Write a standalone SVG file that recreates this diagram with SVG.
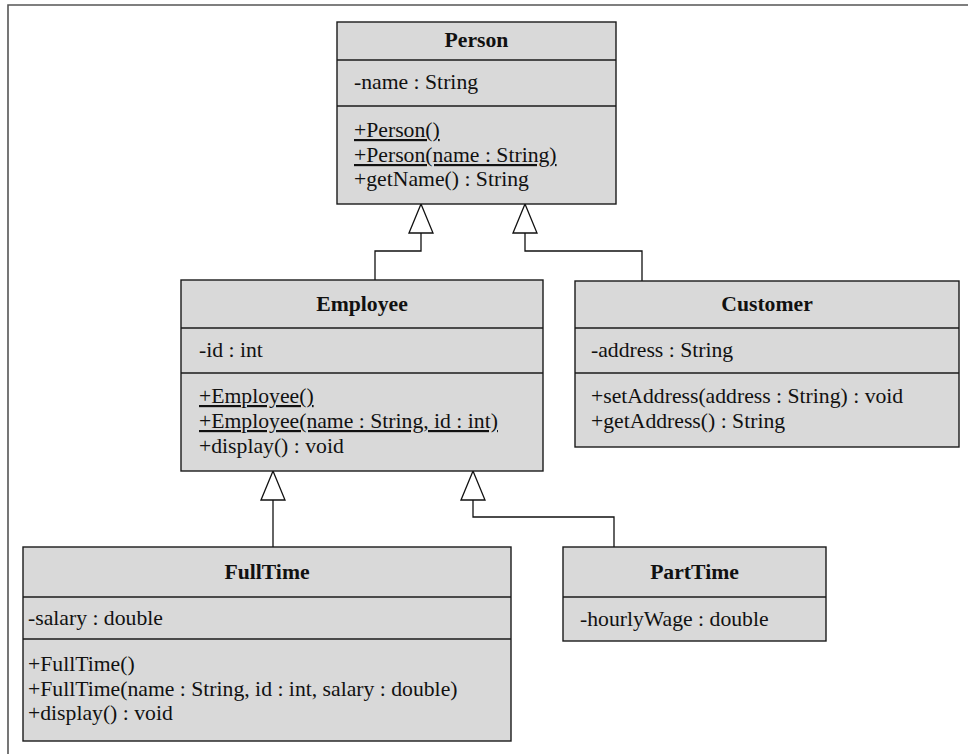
<svg xmlns="http://www.w3.org/2000/svg" width="968" height="754" viewBox="0 0 968 754">
<defs>
<style>
.box{fill:#d9d9d9;stroke:#1a1a1a;stroke-width:1.4}
.div{stroke:#1a1a1a;stroke-width:1.4}
text{font-family:"Liberation Serif","Times New Roman",serif;font-size:21.7px;fill:#111}
.title{font-weight:bold;text-anchor:middle}
.u{text-decoration:underline}
.conn{fill:none;stroke:#111;stroke-width:1.3}
.frame{stroke:#555;stroke-width:1.6;fill:none}
</style>
<marker id="gen" markerUnits="userSpaceOnUse" viewBox="0 0 31 26" refX="30" refY="13" markerWidth="31" markerHeight="26" orient="auto">
<path d="M1,1 L30,13 L1,25 Z" fill="#fff" stroke="#111" stroke-width="1.3"/>
</marker>
</defs>
<rect width="968" height="754" fill="#fff"/>
<path class="frame" d="M968,5 H8 V754"/>

<g id="connectors">
<path class="conn" d="M375,280 V251 H421 V204" marker-end="url(#gen)"/>
<path class="conn" d="M642,281 V251 H525 V204" marker-end="url(#gen)"/>
<path class="conn" d="M273,547 V471" marker-end="url(#gen)"/>
<path class="conn" d="M614,547 V517 H473 V471" marker-end="url(#gen)"/>
</g>

<g id="Person">
<rect class="box" x="337" y="22" width="279" height="182"/>
<line class="div" x1="337" y1="60" x2="616" y2="60"/>
<line class="div" x1="337" y1="106" x2="616" y2="106"/>
<text class="title" x="476.5" y="47">Person</text>
<text x="354" y="89">-name : String</text>
<text class="u" x="354" y="137">+Person()</text>
<text class="u" x="354" y="162">+Person(name : String)</text>
<text x="354" y="186">+getName() : String</text>
</g>

<g id="Employee">
<rect class="box" x="181" y="280" width="362" height="191"/>
<line class="div" x1="181" y1="328" x2="543" y2="328"/>
<line class="div" x1="181" y1="373" x2="543" y2="373"/>
<text class="title" x="362" y="311">Employee</text>
<text x="199" y="357">-id : int</text>
<text class="u" x="199" y="403">+Employee()</text>
<text class="u" x="199" y="428">+Employee(name : String, id : int)</text>
<text x="199" y="453">+display() : void</text>
</g>

<g id="Customer">
<rect class="box" x="575" y="281" width="384" height="166"/>
<line class="div" x1="575" y1="328" x2="959" y2="328"/>
<line class="div" x1="575" y1="373" x2="959" y2="373"/>
<text class="title" x="767" y="311">Customer</text>
<text x="591" y="357">-address : String</text>
<text x="591" y="403">+setAddress(address : String) : void</text>
<text x="591" y="428">+getAddress() : String</text>
</g>

<g id="FullTime">
<rect class="box" x="23" y="547" width="488" height="194"/>
<line class="div" x1="23" y1="597" x2="511" y2="597"/>
<line class="div" x1="23" y1="639" x2="511" y2="639"/>
<text class="title" x="267" y="579">FullTime</text>
<text x="28" y="625">-salary : double</text>
<text x="28" y="671">+FullTime()</text>
<text x="28" y="696">+FullTime(name : String, id : int, salary : double)</text>
<text x="28" y="720">+display() : void</text>
</g>

<g id="PartTime">
<rect class="box" x="563" y="547" width="263" height="94"/>
<line class="div" x1="563" y1="597" x2="826" y2="597"/>
<text class="title" x="694.5" y="579">PartTime</text>
<text x="580" y="626">-hourlyWage : double</text>
</g>
</svg>
